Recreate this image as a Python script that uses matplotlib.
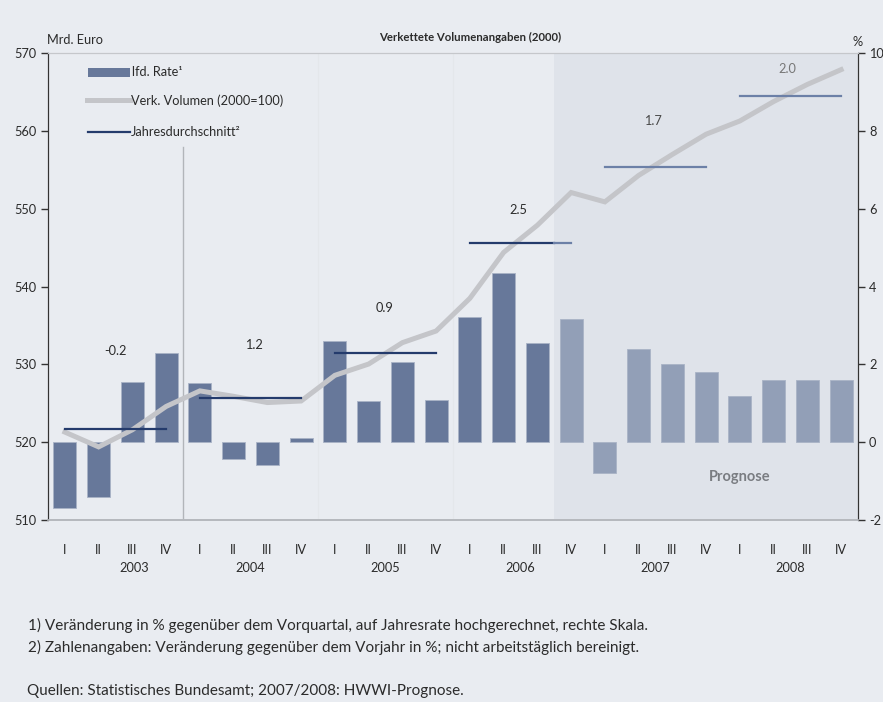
import matplotlib
matplotlib.use("Agg")
import matplotlib.pyplot as plt
import matplotlib.transforms as mtrans
from matplotlib.lines import Line2D
from matplotlib.patches import Rectangle

plt.rcParams['font.family'] = ['Lato', 'DejaVu Sans']
plt.rcParams['axes.unicode_minus'] = False

# ---------------- data ----------------
quarters = ['I', 'II', 'III', 'IV'] * 6
years = ['2003', '2004', '2005', '2006', '2007', '2008']
# laufende Rate (% , right axis)
rate = [-1.68, -1.42, 1.55, 2.30,
        1.52, -0.43, -0.59, 0.12,
        2.59, 1.05, 2.06, 1.08,
        3.23, 4.35, 2.54, 3.17,
        -0.80, 2.40, 2.00, 1.80,
        1.19, 1.59, 1.60, 1.60]
# Verkettetes Volumen (Mrd. Euro, left axis)
volume = [521.3, 519.4, 521.6, 524.6,
          526.6, 525.9, 525.1, 525.3,
          528.6, 530.05, 532.8, 534.3,
          538.5, 544.4, 547.9, 552.1,
          550.9, 554.3, 557.0, 559.6,
          561.3, 563.8, 566.0, 567.9]
# Jahresdurchschnitt (Mrd. Euro)
annual_avg = [521.7, 525.7, 531.5, 545.6, 555.4, 564.5]
annual_change = ['-0.2', '1.2', '0.9', '2.5', '1.7', '2.0']
forecast_start = 15  # 2006 IV

# ---------------- styling ----------------
BG = '#e9ecf1'
SHADE = '#dfe3ea'
BAR_DARK = '#67789a'
BAR_LIGHT = '#929fb7'
AVG_DARK = '#243b6c'
AVG_LIGHT = '#6c80a7'
VOL = '#c4c5c9'
TXT = '#2b2b2b'
FS = 9.2

W, H = 883, 702
fig = plt.figure(figsize=(W / 100, H / 100), dpi=100, facecolor=BG)

def fx(x):
    return x / W

def fy(y):
    return 1 - y / H

ax = fig.add_axes([fx(48), fy(520), fx(858) - fx(48), fy(53.3) - fy(520)])
ax.set_facecolor(BG)
ax2 = ax.twinx()

n = len(rate)
xs = list(range(n))
ax.set_xlim(-0.5, n - 0.5)
ax.set_ylim(-2, 10)
ax2.set_ylim(510, 570)

# forecast shading and faint separators
ax.axvspan(forecast_start - 0.5, n - 0.5, color=SHADE, zorder=0, lw=0)
for b in (7.5, 11.5):
    ax.axvline(b, color='#e4e7eb', lw=0.8, zorder=0.5)
ax2.plot([3.5, 3.5], [557.9, 510], color='#b2b5ba', lw=1.0, zorder=1)

# bars
colors = [BAR_DARK if i < forecast_start else BAR_LIGHT for i in xs]
ax.bar(xs, rate, width=0.68, color=colors, edgecolor='#a9b3c6', linewidth=0.6, zorder=2)

# volume line
ax2.plot(xs, volume, color=VOL, lw=3.6, solid_joinstyle='miter', zorder=3)

# annual averages
for k, avg in enumerate(annual_avg):
    x0, x1 = 4 * k, 4 * k + 3
    if x1 < forecast_start - 0.5:
        ax2.plot([x0, x1], [avg, avg], color=AVG_DARK, lw=1.6, zorder=4)
    elif x0 > forecast_start - 0.5:
        ax2.plot([x0, x1], [avg, avg], color=AVG_LIGHT, lw=1.6, zorder=4)
    else:
        ax2.plot([x0, forecast_start - 0.5], [avg, avg], color=AVG_DARK, lw=1.6, zorder=4)
        ax2.plot([forecast_start - 0.5, x1], [avg, avg], color=AVG_LIGHT, lw=1.6, zorder=4)

label_pos = [(1.49, 531.7), (5.6, 532.5), (9.46, 537.2), (13.43, 549.8), (17.42, 561.3), (21.4, 568.0)]
label_col = [TXT, TXT, TXT, TXT, '#4a4a4a', '#777777']
for (lx, ly), t, c in zip(label_pos, annual_change, label_col):
    ax2.text(lx, ly, t, ha='center', va='center', fontsize=FS, color=c, zorder=5)

ax.text(20.0, -0.9, 'Prognose', ha='center', va='center', fontsize=10.5, fontweight='bold',
        color='#7a7d82', zorder=5)

# axes: % on right, Euro on left
ax.yaxis.tick_right()
ax.yaxis.set_label_position('right')
ax2.yaxis.tick_left()
ax2.yaxis.set_label_position('left')
ax.set_yticks(range(-2, 11, 2))
ax2.set_yticks(range(510, 571, 10))
for a in (ax, ax2):
    a.tick_params(axis='y', direction='out', length=5, width=1, color='#333333',
                  labelsize=FS, labelcolor=TXT, pad=3)
ax.set_xticks(xs)
ax.set_xticklabels(quarters)
ax.tick_params(axis='x', length=0, pad=17, labelsize=FS, labelcolor=TXT)
ax2.tick_params(axis='x', length=0)

for a in (ax, ax2):
    a.spines['top'].set_color('#c5c7cb')
    a.spines['bottom'].set_color('#b5b8bd')
    a.spines['bottom'].set_linewidth(1.2)
    a.spines['left'].set_color('#333333')
    a.spines['right'].set_color('#333333')

# year labels (below the quarter labels)
year_x = [2.05, 5.5, 9.5, 13.5, 17.5, 21.5]
shift = mtrans.ScaledTranslation(0, -48 / 100, fig.dpi_scale_trans)
for yx, yr in zip(year_x, years):
    ax.text(yx, -2.0, yr, transform=ax.transData + shift,
            ha='center', va='center', fontsize=FS, color=TXT)

# titles / units
fig.text(fx(47), fy(40), 'Mrd. Euro', ha='left', va='center', fontsize=FS, color=TXT)
fig.text(fx(470), fy(37), 'Verkettete Volumenangaben (2000)', ha='center', va='center',
         fontsize=8.2, fontweight='bold', color=TXT)
fig.text(fx(858), fy(42), '%', ha='center', va='center', fontsize=FS, color=TXT)

# legend (manual)
fig.add_artist(Rectangle((fx(88), fy(76.7)), fx(130) - fx(88), fy(68.3) - fy(76.7),
                         transform=fig.transFigure, color=BAR_DARK, lw=0))
fig.text(fx(132), fy(72.5), 'lfd. Rate¹', ha='left', va='center', fontsize=FS, color=TXT)
fig.add_artist(Line2D([fx(87), fx(130)], [fy(99.5), fy(99.5)], transform=fig.transFigure,
                      color=VOL, lw=3.6))
fig.text(fx(131), fy(100.5), 'Verk. Volumen (2000=100)', ha='left', va='center', fontsize=FS, color=TXT)
fig.add_artist(Line2D([fx(88), fx(130)], [fy(131.7), fy(131.7)], transform=fig.transFigure,
                      color=AVG_DARK, lw=1.6))
fig.text(fx(131), fy(132), 'Jahresdurchschnitt²', ha='left', va='center', fontsize=FS, color=TXT)

# footnotes
fig.text(fx(28), fy(625), '1) Veränderung in % gegenüber dem Vorquartal, auf Jahresrate hochgerechnet, rechte Skala.',
         ha='left', va='center', fontsize=11, color=TXT)
fig.text(fx(28), fy(647), '2) Zahlenangaben: Veränderung gegenüber dem Vorjahr in %; nicht arbeitstäglich bereinigt.',
         ha='left', va='center', fontsize=11, color=TXT)
fig.text(fx(27), fy(691), 'Quellen: Statistisches Bundesamt; 2007/2008: HWWI-Prognose.',
         ha='left', va='center', fontsize=11, color=TXT)

fig.savefig('out.png', dpi=100, facecolor=BG)
